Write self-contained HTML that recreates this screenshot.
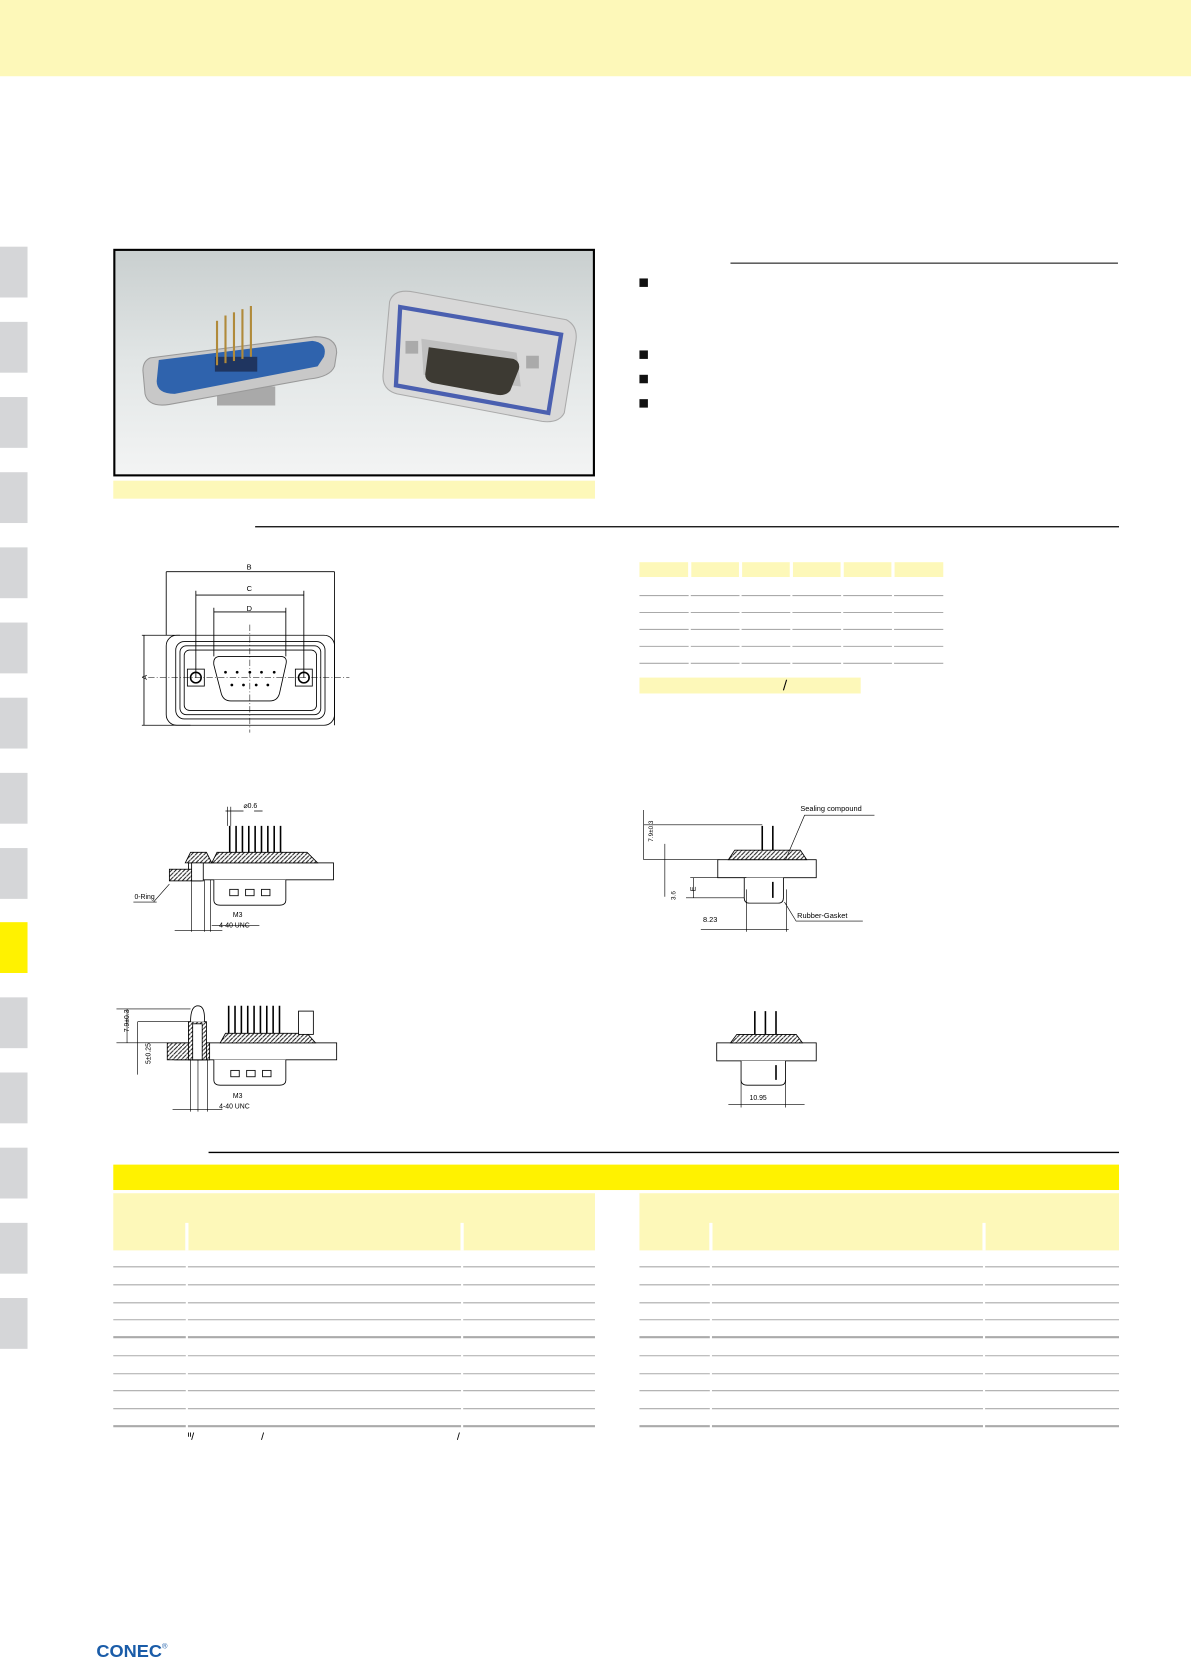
<!DOCTYPE html>
<html><head><meta charset="utf-8"><style>html,body{margin:0;padding:0;background:#fff}svg{display:block}</style></head>
<body>
<svg xmlns="http://www.w3.org/2000/svg" width="1191" height="1658" viewBox="0 0 1125 1566" preserveAspectRatio="none" font-family="Liberation Sans, sans-serif">
<defs>
<linearGradient id="bg" x1="0" y1="0" x2="0" y2="1"><stop offset="0" stop-color="#c9cfcf"/><stop offset="0.5" stop-color="#e2e6e6"/><stop offset="1" stop-color="#f3f4f4"/></linearGradient>
<pattern id="hatch" width="4" height="4" patternUnits="userSpaceOnUse"><rect width="4" height="4" fill="#fff"/><path d="M0 4L4 0" stroke="#222" stroke-width="1"/></pattern>
</defs>
<rect x="0" y="0" width="1125" height="72" fill="#fdf8b9"/>
<g fill="#d5d6d8">
<rect x="0" y="233" width="26" height="48"/><rect x="0" y="304" width="26" height="48"/><rect x="0" y="375" width="26" height="48"/><rect x="0" y="446" width="26" height="48"/><rect x="0" y="517" width="26" height="48"/><rect x="0" y="588" width="26" height="48"/><rect x="0" y="659" width="26" height="48"/><rect x="0" y="730" width="26" height="48"/><rect x="0" y="801" width="26" height="48"/><rect x="0" y="942" width="26" height="48"/><rect x="0" y="1013" width="26" height="48"/><rect x="0" y="1084" width="26" height="48"/><rect x="0" y="1155" width="26" height="48"/><rect x="0" y="1226" width="26" height="48"/>
</g>
<rect x="0" y="871" width="26" height="48" fill="#fff200"/>
<!-- photo -->
<rect x="108" y="236" width="453" height="213" fill="url(#bg)" stroke="#000" stroke-width="2"/>
<g>
<rect x="205" y="365" width="55" height="18" fill="#a9a9a9"/>
<path d="M142 338 L298 318 Q318 318 318 333 L316 346 Q312 356 292 358 L160 382 Q140 385 137 372 L135 350 Q135 341 142 338Z" fill="#c8c8c8" stroke="#999"/>
<path d="M150 340 L295 322 Q310 324 306 337 L300 346 L165 372 Q148 372 148 360Z" fill="#2f63ad"/>
<rect x="203" y="337" width="40" height="14" fill="#1f3560"/>
<g stroke="#b08a3a" stroke-width="2"><line x1="205" y1="345" x2="205" y2="303"/><line x1="213" y1="343" x2="213" y2="298"/><line x1="221" y1="341" x2="221" y2="295"/><line x1="229" y1="339" x2="229" y2="292"/><line x1="237" y1="337" x2="237" y2="289"/></g>
<path d="M368 285 Q372 272 392 276 L535 302 Q546 308 544 322 L533 390 Q528 400 512 398 L375 372 Q360 368 362 352Z" fill="#d8d8d8" stroke="#aaa"/>
<path d="M378 290 L530 316 L518 390 L374 364Z" fill="none" stroke="#4a5fb0" stroke-width="4"/>
<path d="M398 320 L488 333 L492 365 L400 354Z" fill="#c0c0c0"/>
<path d="M405 328 L485 339 Q492 342 490 349 L482 369 Q478 374 470 373 L410 362 Q400 360 402 351Z" fill="#3d3a33"/>
<rect x="383" y="322" width="12" height="12" fill="#aaa"/><rect x="497" y="336" width="12" height="12" fill="#aaa"/>
</g>
<rect x="107" y="454" width="455" height="17" fill="#fdf8b9"/>
<line x1="690" y1="248.5" x2="1056" y2="248.5" stroke="#000" stroke-width="1"/>
<g fill="#111"><rect x="604" y="263" width="8" height="8"/><rect x="604" y="331" width="8" height="8"/><rect x="604" y="354" width="8" height="8"/><rect x="604" y="377" width="8" height="8"/></g>
<line x1="241" y1="497.5" x2="1057" y2="497.5" stroke="#000" stroke-width="1.2"/>
<!-- top right table -->
<g fill="#fdf8b9"><rect x="604" y="531" width="46" height="14"/><rect x="653" y="531" width="45" height="14"/><rect x="701" y="531" width="45" height="14"/><rect x="749" y="531" width="45" height="14"/><rect x="797" y="531" width="45" height="14"/><rect x="845" y="531" width="46" height="14"/></g>
<g stroke="#aaa" stroke-width="1">
<path d="M604 562.5H891M604 578.5H891M604 594.5H891M604 610.5H891M604 626.5H891"/>
</g>
<g stroke="#fff" stroke-width="2"><path d="M651.5 550V630M699.5 550V630M747.5 550V630M795.5 550V630M843.5 550V630"/></g>
<rect x="604" y="640" width="209" height="15" fill="#fdf8b9"/>
<line x1="743" y1="642" x2="740" y2="652" stroke="#000" stroke-width="1"/>
<!-- front view drawing -->
<g fill="none" stroke="#000" stroke-width="0.8">
<rect x="157" y="600" width="159" height="85" rx="10"/>
<rect x="166" y="606" width="141" height="73" rx="8"/>
<rect x="170" y="610" width="133" height="65" rx="6"/>
<rect x="174" y="614" width="125" height="57" rx="5"/>
<rect x="177" y="632" width="16" height="16"/><circle cx="185" cy="640" r="5" stroke-width="1.5"/>
<rect x="279" y="632" width="16" height="16"/><circle cx="287" cy="640" r="5" stroke-width="1.5"/>
<path d="M208 620 H265 Q272 620 270 628 L264 655 Q262 662 255 662 H218 Q211 662 209 655 L202 628 Q201 620 208 620Z"/>
<path d="M157 540V600M316 540V685M185 558V640M287 558V640M202 574V620M270 574V620M134 600H170M134 685H180M136 600V685"/>
<path d="M157 540H316M185 562H287M202 578H270"/>
<path d="M140 640H330M236 590V692" stroke-dasharray="6 2 1 2" stroke-width="0.5"/>
</g>
<g fill="#000"><circle cx="213" cy="635" r="1.3"/><circle cx="224" cy="635" r="1.3"/><circle cx="236" cy="635" r="1.3"/><circle cx="247" cy="635" r="1.3"/><circle cx="259" cy="635" r="1.3"/><circle cx="219" cy="647" r="1.3"/><circle cx="230" cy="647" r="1.3"/><circle cx="242" cy="647" r="1.3"/><circle cx="253" cy="647" r="1.3"/></g>
<g font-size="7" fill="#000"><text x="233" y="538">B</text><text x="233" y="558">C</text><text x="233" y="577">D</text><text x="136" y="645" transform="rotate(-90 136 642)">A</text></g>
<!-- side view 1 -->
<g stroke="#000" stroke-width="0.8">
<rect x="178" y="815" width="137" height="16" fill="#fff"/>
<path d="M200 815 L205 805 H290 L300 815Z" fill="url(#hatch)"/>
<path d="M175 815 L180 805 H195 L200 815Z" fill="url(#hatch)"/>
<rect x="160" y="821" width="30" height="11" fill="url(#hatch)"/>
<rect x="181" y="815" width="11" height="17" fill="#fff"/>
<path d="M202 831 V850 Q202 855 208 855 H264 Q270 855 270 850 V831" fill="#fff"/>
<g fill="#fff"><rect x="217" y="840" width="8" height="6"/><rect x="232" y="840" width="8" height="6"/><rect x="247" y="840" width="8" height="6"/></g>
<g stroke-width="1.5"><path d="M217 805V780M223 805V780M229 805V780M235 805V780M241 805V780M247 805V780M253 805V780M259 805V780M265 805V780"/></g>
<path d="M213 766H230M240 766H248M215 762V780M218 762V780M181 831V880M193 831V880M199 831V880M165 879H210M145 852 L160 835" fill="none" stroke-width="0.6"/>
<path d="M126 852H148M200 874H245" fill="none" stroke-width="0.6"/>
</g>
<g font-size="6.5" fill="#000"><text x="230" y="763">⌀0.6</text><text x="127" y="849">0-Ring</text><text x="220" y="866">M3</text><text x="207" y="876">4-40 UNC</text></g>
<!-- side view 2 -->
<g stroke="#000" stroke-width="0.8">
<rect x="165" y="985" width="153" height="16" fill="#fff"/>
<path d="M208 985 L213 976 H290 L298 985Z" fill="url(#hatch)"/>
<rect x="158" y="985" width="40" height="16" fill="url(#hatch)"/>
<rect x="178" y="965" width="17" height="36" fill="url(#hatch)"/>
<rect x="182" y="967" width="9" height="34" fill="#fff"/>
<path d="M180 965 Q180 950 187 950 Q194 950 193 965" fill="#fff"/>
<path d="M202 1001 V1020 Q202 1025 208 1025 H264 Q270 1025 270 1020 V1001" fill="#fff"/>
<g fill="#fff"><rect x="218" y="1011" width="8" height="6"/><rect x="233" y="1011" width="8" height="6"/><rect x="248" y="1011" width="8" height="6"/></g>
<g stroke-width="1.5"><path d="M216 976V950M222 976V950M228 976V950M234 976V950M240 976V950M246 976V950M252 976V950M258 976V950M264 976V950"/></g>
<rect x="282" y="955" width="14" height="22" fill="#fff"/>
<path d="M110 953H180M110 985H160M120 953V985M130 965H180M130 965V1015M180 1001V1050M187 1001V1050M196 1001V1050M163 1048H210" fill="none" stroke-width="0.6"/>
</g>
<g font-size="6.5" fill="#000"><text x="220" y="1037">M3</text><text x="207" y="1047">4-40 UNC</text><text x="115" y="982" transform="rotate(-90 115 975)">7.9±0.3</text><text x="135" y="1012" transform="rotate(-90 135 1005)">5±0.25</text></g>
<!-- right drawing 1 -->
<g stroke="#000" stroke-width="0.8">
<rect x="678" y="812" width="93" height="17" fill="#fff"/>
<path d="M688 812 L694 803 H756 L762 812Z" fill="url(#hatch)"/>
<path d="M703 829 V848 Q703 853 708 853 H735 Q740 853 740 848 V829" fill="#fff"/>
<g stroke-width="1.5"><path d="M720 803V780M730 803V780M730 833V848"/></g>
<path d="M608 779H720M608 812H680M608 765V812M628 797V847M628 812H678M655 829V848M652 829H705M648 848H703M705 840V880M743 840V880M662 878H745M742 812L760 770H826M741 852L752 870H815" fill="none" stroke-width="0.6"/>
</g>
<g font-size="7" fill="#000"><text x="756" y="766">Sealing compound</text><text x="753" y="867">Rubber-Gasket</text><text x="664" y="871">8.23</text><text x="612" y="800" transform="rotate(-90 612 795)" font-size="6">7.9±0.3</text><text x="632" y="856" transform="rotate(-90 632 850)" font-size="6">3.6</text><text x="654" y="845" transform="rotate(-90 654 842)">E</text></g>
<!-- right drawing 2 -->
<g stroke="#000" stroke-width="0.8">
<rect x="677" y="985" width="94" height="17" fill="#fff"/>
<path d="M690 985 L696 977 H752 L758 985Z" fill="url(#hatch)"/>
<path d="M700 1002 V1020 Q700 1025 706 1025 H737 Q742 1025 742 1020 V1002" fill="#fff"/>
<g stroke-width="1.5"><path d="M713 977V955M723 977V955M733 977V955M733 1006V1020"/></g>
<path d="M700 1020V1046M742 1020V1046M688 1043H760" fill="none" stroke-width="0.6"/>
</g>
<text x="708" y="1039" font-size="6.5" fill="#000">10.95</text>
<!-- bottom -->
<line x1="197" y1="1088.5" x2="1057" y2="1088.5" stroke="#000" stroke-width="1.2"/>
<rect x="107" y="1100" width="950" height="24" fill="#fff200"/>
<rect x="107" y="1127" width="455" height="54" fill="#fdf8b9"/>
<rect x="604" y="1127" width="453" height="54" fill="#fdf8b9"/>
<g stroke="#fff" stroke-width="3"><path d="M176.5 1155V1181M436.5 1155V1181M671.5 1155V1181M929.5 1155V1181"/></g>
<g stroke="#aaa" stroke-width="1"><path d="M107 1196.5H562M107 1213.5H562M107 1230.5H562M107 1246.5H562M107 1280.5H562M107 1297.5H562M107 1313.5H562M107 1330.5H562M604 1196.5H1057M604 1213.5H1057M604 1230.5H1057M604 1246.5H1057M604 1280.5H1057M604 1297.5H1057M604 1313.5H1057M604 1330.5H1057"/></g>
<g stroke="#aaa" stroke-width="2"><path d="M107 1263H562M107 1347H562M604 1263H1057M604 1347H1057"/></g>
<g stroke="#fff" stroke-width="2"><path d="M176.5 1190V1350M436.5 1190V1350M671.5 1190V1350M929.5 1190V1350"/></g>
<g stroke="#000" stroke-width="0.8"><path d="M183 1353L181 1360M249 1353L247 1360M434 1353L432 1360M178 1353V1357M180 1353V1357"/></g>
<text x="91" y="1565" font-size="17" font-weight="bold" fill="#1a5ca8" textLength="62" lengthAdjust="spacingAndGlyphs">CONEC</text>
<text x="153" y="1557" font-size="7" fill="#1a5ca8">®</text>
</svg>
</body></html>
